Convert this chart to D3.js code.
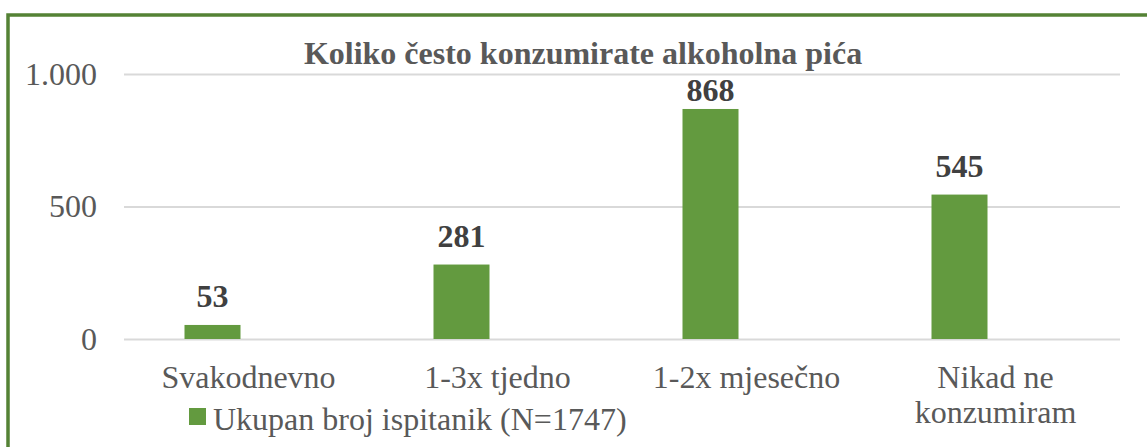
<!DOCTYPE html>
<html>
<head>
<meta charset="utf-8">
<script src="https://cdn.jsdelivr.net/npm/d3@7"></script>
<style>
  body { margin: 0; background: #fff; }
  svg { display: block; font-family: "Liberation Serif", "Times New Roman", serif; }
</style>
</head>
<body>
<div id="chart"></div>
<script>
// Chart data
const categories = ["Svakodnevno", "1-3x tjedno", "1-2x mjesečno", "Nikad ne konzumiram"];
const values = [53, 281, 868, 545];
const yTicks = [0, 500, 1000];
const title = "Koliko često konzumirate alkoholna pića";
const seriesName = "Ukupan broj ispitanik (N=1747)";

const W = 1147, H = 447;
const plot = { left: 124, right: 1120, top: 74, bottom: 339 };
const barWidth = 56;
const barShift = -36; // bars sit left of the category centre
const green = "#639a3f";
const textGray = "#595959";

// Croatian number format: 1.000
const hr = d3.formatLocale({ decimal: ",", thousands: ".", grouping: [3], currency: ["", ""] });
const fmt = hr.format(",");

const svg = d3.select("#chart").append("svg")
  .attr("width", W)
  .attr("height", H);

// Outer border (green frame)
svg.append("rect")
  .attr("x", 8)
  .attr("y", 15)
  .attr("width", W + 20)
  .attr("height", H + 20)
  .attr("fill", "none")
  .attr("stroke", "#548235")
  .attr("stroke-width", 3.5);

const x = d3.scaleBand()
  .domain(categories)
  .range([plot.left, plot.right]);

const y = d3.scaleLinear()
  .domain([0, 1000])
  .range([plot.bottom, plot.top]);

// Gridlines + y tick labels
const yAxis = svg.append("g")
  .attr("transform", `translate(${plot.left},0)`)
  .call(d3.axisLeft(y)
    .tickValues(yTicks)
    .tickFormat(fmt)
    .tickSize(-(plot.right - plot.left))
    .tickPadding(27));
yAxis.attr("font-family", null);
yAxis.select(".domain").remove();
yAxis.selectAll(".tick line")
  .attr("stroke", "#d9d9d9")
  .attr("stroke-width", 2);
yAxis.selectAll(".tick text")
  .attr("fill", textGray)
  .attr("font-size", 32);

// Title
svg.append("text")
  .attr("x", 583)
  .attr("y", 64)
  .attr("text-anchor", "middle")
  .attr("font-size", 32)
  .attr("font-weight", "bold")
  .attr("fill", textGray)
  .text(title);

// Bars
svg.selectAll("rect.bar")
  .data(values)
  .enter()
  .append("rect")
  .attr("class", "bar")
  .attr("x", (d, i) => x(categories[i]) + x.bandwidth() / 2 + barShift - barWidth / 2)
  .attr("y", d => y(d))
  .attr("width", barWidth)
  .attr("height", d => y(0) - y(d))
  .attr("fill", green);

// Data labels (kept inside the plot area, like Excel does)
svg.selectAll("text.value")
  .data(values)
  .enter()
  .append("text")
  .attr("class", "value")
  .attr("x", (d, i) => x(categories[i]) + x.bandwidth() / 2 + barShift)
  .attr("y", d => Math.max(y(d) - 18, plot.top + 27))
  .attr("text-anchor", "middle")
  .attr("font-size", 32)
  .attr("font-weight", "bold")
  .attr("fill", "#404040")
  .text(d => fmt(d));

// Category labels, wrapped to the band width
const catLabels = svg.selectAll("text.cat")
  .data(categories)
  .enter()
  .append("text")
  .attr("class", "cat")
  .attr("x", d => x(d) + x.bandwidth() / 2)
  .attr("y", 388)
  .attr("text-anchor", "middle")
  .attr("font-size", 32)
  .attr("fill", textGray);

catLabels.each(function(d) {
  const text = d3.select(this);
  const cx = x(d) + x.bandwidth() / 2;
  const words = d.split(" ");
  let line = [];
  let tspan = text.append("tspan").attr("x", cx).attr("dy", 0);
  words.forEach(w => {
    line.push(w);
    tspan.text(line.join(" "));
    if (tspan.node().getComputedTextLength() > x.bandwidth() - 10 && line.length > 1) {
      line.pop();
      tspan.text(line.join(" "));
      line = [w];
      tspan = text.append("tspan").attr("x", cx).attr("dy", 35).text(w);
    }
  });
});

// Legend
svg.append("rect")
  .attr("x", 189)
  .attr("y", 408)
  .attr("width", 17)
  .attr("height", 17)
  .attr("fill", green);

svg.append("text")
  .attr("x", 213)
  .attr("y", 430)
  .attr("font-size", 32)
  .attr("fill", textGray)
  .text(seriesName);
</script>
</body>
</html>
